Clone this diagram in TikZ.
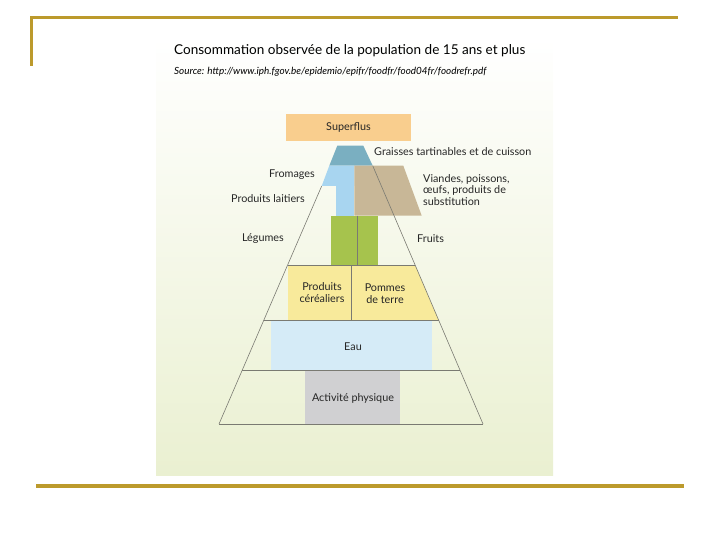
\documentclass[tikz,border=0pt]{standalone}
\usepackage{fontspec}
\setmainfont{Lato}
\usetikzlibrary{positioning}
\definecolor{gold}{HTML}{BC9A2C}
\definecolor{bgbot}{HTML}{EAF0D1}
\definecolor{superflus}{HTML}{F9CE8E}
\definecolor{graisses}{HTML}{7AAFC1}
\definecolor{laitier}{HTML}{A8D5F0}
\definecolor{viande}{HTML}{C8B797}
\definecolor{vert}{HTML}{A6C34D}
\definecolor{jaune}{HTML}{F8EA9B}
\definecolor{eau}{HTML}{D5EBF7}
\definecolor{activite}{HTML}{D0D0D2}
\definecolor{trait}{HTML}{7A7A72}
\tikzset{
	lbl/.style={
		font=\fontsize{10.8}{12}\selectfont,
		inner sep=0pt,
		align=left,
		text=black!85,
	},
	pyr/.style={
		draw=trait,
		line width=0.6pt,
	},
}

\begin{document}
\begin{tikzpicture}[x=1pt,y=-1pt]
\useasboundingbox (0,0) rectangle (720,540);

% frame of the slide
\draw[gold, line width=3pt] (30,18) -- (678,18);
\draw[gold, line width=3pt] (31,16.5) -- (31,66);
\draw[gold, line width=3.5pt] (36,486) -- (684,486);

% picture background
\shade[top color=white, bottom color=bgbot] (156,38) rectangle (553,475);

\node[font=\fontsize{13.55}{15}\selectfont, anchor=west, inner sep=0pt] (titre) at (174,51)
	{Consommation observée de la population de 15 ans et plus};
\node[font=\itshape\fontsize{9.9}{11}\selectfont, anchor=west, inner sep=0pt] (source) at (174,72)
	{Source: http://www.iph.fgov.be/epidemio/epifr/foodfr/food04fr/foodrefr.pdf};

% coloured parts
\fill[graisses] (337.3,145.7) -- (363.3,145.7) -- (372.7,165.7) -- (329.3,165.7) -- cycle;
\fill[laitier] (329.3,165.7) -- (354.3,165.7) -- (354.3,186) -- (321.7,186) -- cycle;
\fill[laitier] (336,186) rectangle (354.3,215.7);
\fill[viande] (354.3,165.7) -- (403.3,165.7) -- (421.7,215.7) -- (354.3,215.7) -- cycle;
\fill[vert] (331,215.7) rectangle (378.3,265);
\fill[jaune] (288,265) -- (415.1,265) -- (438.6,320) -- (288,320) -- cycle;
\fill[eau] (271,320) rectangle (432,370);
\fill[activite] (305,370) rectangle (400,424);

% pyramid
\coordinate (gauche) at (219,424);
\coordinate (droite) at (483,424);
\coordinate (hautg) at (321.7,186);
\coordinate (hautd) at (372.7,165.7);
\draw[pyr] (hautg) -- (gauche);
\draw[pyr] (hautd) -- (droite);
\foreach \y in {265,320,370,424}{
	\draw[pyr] ({219+0.4315*(424-\y)},\y) -- ({483-0.427*(424-\y)},\y);
}
\draw[pyr] (351.7,265) -- (351.7,320);
\draw[pyr, line width=0.5pt] (357.7,215.7) -- (357.7,265);

% labels
\node[lbl, fill=superflus, minimum width=125pt, minimum height=27pt, align=center] (superflus) at (348.5,127.5) {Superflus};
\node[lbl, anchor=west] (graisse) at (374,152) {Graisses tartinables et de cuisson};
\node[lbl, anchor=east] (fromage) at (315,174.5) {Fromages};
\node[lbl, anchor=east] (lait) at (305,199) {Produits laitiers};
\node[lbl, anchor=west, font=\fontsize{10.8}{11.5}\selectfont] (viandes) at (423,190)
	{Viandes, poissons,\\œufs, produits de\\substitution};
\node[lbl, anchor=east] (legume) at (284,238.5) {Légumes};
\node[lbl, anchor=west] (fruit) at (417,238.5) {Fruits};
\node[lbl, align=center] (cereale) at (322,293) {Produits\\céréaliers};
\node[lbl, align=center] (pomme) at (385,294) {Pommes\\de terre};
\node[lbl] (eauL) at (353,347) {Eau};
\node[lbl] (sport) at (353,398.5) {Activité physique};
\end{tikzpicture}
\end{document}
